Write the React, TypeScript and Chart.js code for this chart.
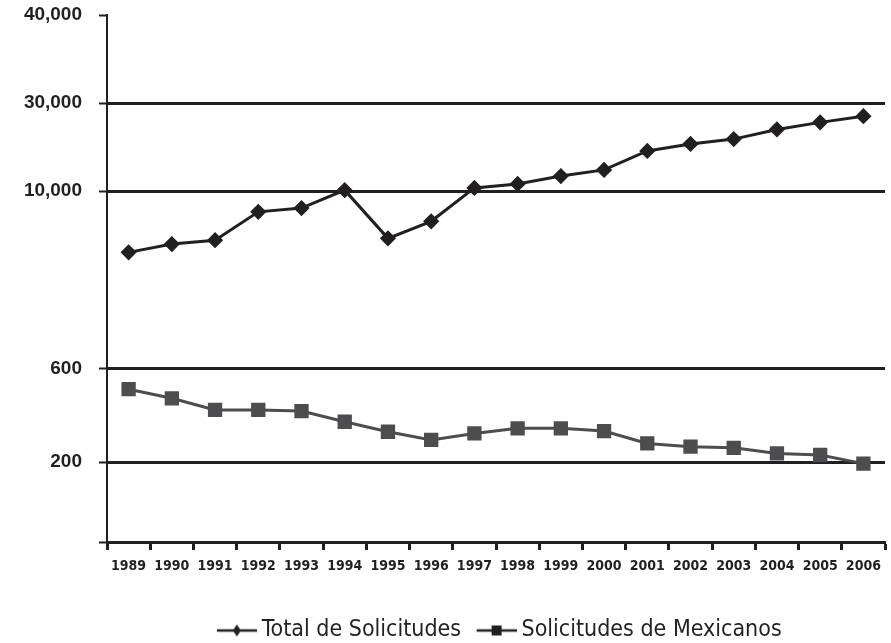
import React, { useEffect, useRef } from 'react';
import { Chart, registerables, LinearScale } from 'chart.js';

Chart.register(...registerables);

// ---- data ----
const years = ['1989', '1990', '1991', '1992', '1993', '1994', '1995', '1996', '1997', '1998', '1999', '2000', '2001', '2002', '2003', '2004', '2005', '2006'];
const totalSolicitudes = [6760, 7200, 7400, 8900, 9100, 10200, 7500, 8400, 10700, 11600, 13400, 14800, 19100, 20700, 21800, 24000, 25600, 27000];
const solicitudesMexicanos = [513, 474, 424, 424, 419, 373, 330, 295, 323, 345, 345, 333, 280, 266, 261, 237, 230, 196];
const seriesNames = ['Total de Solicitudes', 'Solicitudes de Mexicanos'];

// y axis (broken scale): tick values, labels, and where each break sits on the axis (0..1)
const yTickValues = [0, 200, 600, 10000, 30000, 40000];
const yTickLabels = ['', '200', '600', '10,000', '30,000', '40,000'];
const yTickFractions = [0, 0.1518, 0.3283, 0.666, 0.833, 1];

const INK = '#231f20';
const GREY = '#4d4d4f';
const NARROW = '"Liberation Sans Narrow", "DejaVu Sans Condensed", sans-serif';

function valueToDecimal(v: number): number {
  const n = yTickValues.length;
  if (v <= yTickValues[0]) return yTickFractions[0];
  for (let i = 1; i < n; i++) {
    if (v <= yTickValues[i]) {
      const t = (v - yTickValues[i - 1]) / (yTickValues[i] - yTickValues[i - 1]);
      return yTickFractions[i - 1] + t * (yTickFractions[i] - yTickFractions[i - 1]);
    }
  }
  return yTickFractions[n - 1];
}
function decimalToValue(d: number): number {
  const n = yTickFractions.length;
  for (let i = 1; i < n; i++) {
    if (d <= yTickFractions[i]) {
      const t = (d - yTickFractions[i - 1]) / (yTickFractions[i] - yTickFractions[i - 1]);
      return yTickValues[i - 1] + t * (yTickValues[i] - yTickValues[i - 1]);
    }
  }
  return yTickValues[n - 1];
}

class BrokenScale extends LinearScale {
  static id = 'broken';
  getPixelForValue(value: any) {
    if (value === null || value === undefined || isNaN(value)) return NaN;
    return this.getPixelForDecimal(valueToDecimal(+value));
  }
  getValueForPixel(pixel: number) {
    return decimalToValue(this.getDecimalForPixel(pixel));
  }
}
Chart.register(BrokenScale as any);

// legend icon: a short line with the series marker; left 13px transparent so the
// visible symbol sits close to its text
function makeLegendIcon(kind: 'diamond' | 'square'): HTMLCanvasElement {
  const c = document.createElement('canvas');
  c.width = 53;
  c.height = 16;
  const g = c.getContext('2d')!;
  g.strokeStyle = INK;
  g.lineWidth = 2.5;
  g.beginPath();
  g.moveTo(13, 8);
  g.lineTo(53, 8);
  g.stroke();
  g.fillStyle = INK;
  const cx = 33;
  if (kind === 'diamond') {
    g.beginPath();
    g.moveTo(cx, 2);
    g.lineTo(cx + 4, 8);
    g.lineTo(cx, 14);
    g.lineTo(cx - 4, 8);
    g.closePath();
    g.fill();
  } else {
    g.fillRect(cx - 5, 3, 10, 10);
  }
  return c;
}

export default function App() {
  const ref = useRef<HTMLCanvasElement | null>(null);

  useEffect(() => {
    if (!ref.current) return;
    const icons = [makeLegendIcon('diamond'), makeLegendIcon('square')];
    const chart = new Chart(ref.current, {
      type: 'line',
      data: {
        labels: years,
        datasets: [
          {
            label: seriesNames[0],
            data: totalSolicitudes,
            borderColor: INK,
            backgroundColor: INK,
            borderWidth: 3,
            pointStyle: 'rectRot',
            pointRadius: 6,
            pointBackgroundColor: INK,
            pointBorderColor: INK,
            tension: 0,
          },
          {
            label: seriesNames[1],
            data: solicitudesMexicanos,
            borderColor: GREY,
            backgroundColor: GREY,
            borderWidth: 3,
            pointStyle: 'rect',
            pointRadius: 8,
            pointBackgroundColor: GREY,
            pointBorderColor: GREY,
            tension: 0,
          },
        ],
      },
      options: {
        responsive: false,
        animation: false,
        layout: { padding: { top: 15, left: 0, right: 0, bottom: -9 } },
        plugins: {
          tooltip: { enabled: false },
          legend: {
            position: 'bottom',
            fullSize: false,
            labels: {
              usePointStyle: true,
              pointStyleWidth: 40,
              padding: 9,
              color: INK,
              font: { family: NARROW, size: 23 },
              generateLabels: (ch: any) =>
                Chart.defaults.plugins.legend.labels.generateLabels(ch).map((l: any, i: number) => ({
                  ...l,
                  pointStyle: icons[i],
                  fontColor: INK,
                })),
            },
          },
        },
        scales: {
          x: {
            type: 'category',
            offset: true,
            grid: {
              offset: true,
              drawOnChartArea: false,
              tickLength: 8,
              tickWidth: 3,
              tickColor: INK,
            },
            border: { color: INK, width: 3 },
            ticks: {
              color: INK,
              padding: 8,
              maxRotation: 0,
              autoSkip: false,
              font: { family: NARROW, size: 14, weight: 'bold' },
            },
            afterFit: (s: any) => {
              s.height = 68;
            },
          },
          y: {
            type: 'broken' as any,
            min: 0,
            max: 40000,
            afterBuildTicks: (s: any) => {
              s.ticks = yTickValues.map((v) => ({ value: v }));
            },
            grid: {
              color: (ctx: any) => (ctx.tick && ctx.tick.value === yTickValues[yTickValues.length - 1] ? 'rgba(0,0,0,0)' : INK),
              lineWidth: 3,
              tickColor: INK,
              tickLength: 8,
              tickWidth: 2,
            },
            border: { color: INK, width: 2 },
            ticks: {
              color: INK,
              padding: 17,
              autoSkip: false,
              font: { family: '"Liberation Sans", Arial, sans-serif', size: 19, weight: 'bold' },
              callback: (v: any) => {
                const i = yTickValues.indexOf(+v);
                return i >= 0 ? yTickLabels[i] : '';
              },
            },
            afterFit: (s: any) => {
              s.width = 107;
              s.paddingTop = 0;
              s.paddingBottom = 0;
            },
          },
        },
      } as any,
    });
    return () => chart.destroy();
  }, []);

  return (
    <div style={{ position: 'fixed', left: 0, top: 0, width: 891, height: 643, overflow: 'hidden', background: '#fff' }}>
      <canvas ref={ref} width={896} height={643} style={{ display: 'block' }} />
    </div>
  );
}
